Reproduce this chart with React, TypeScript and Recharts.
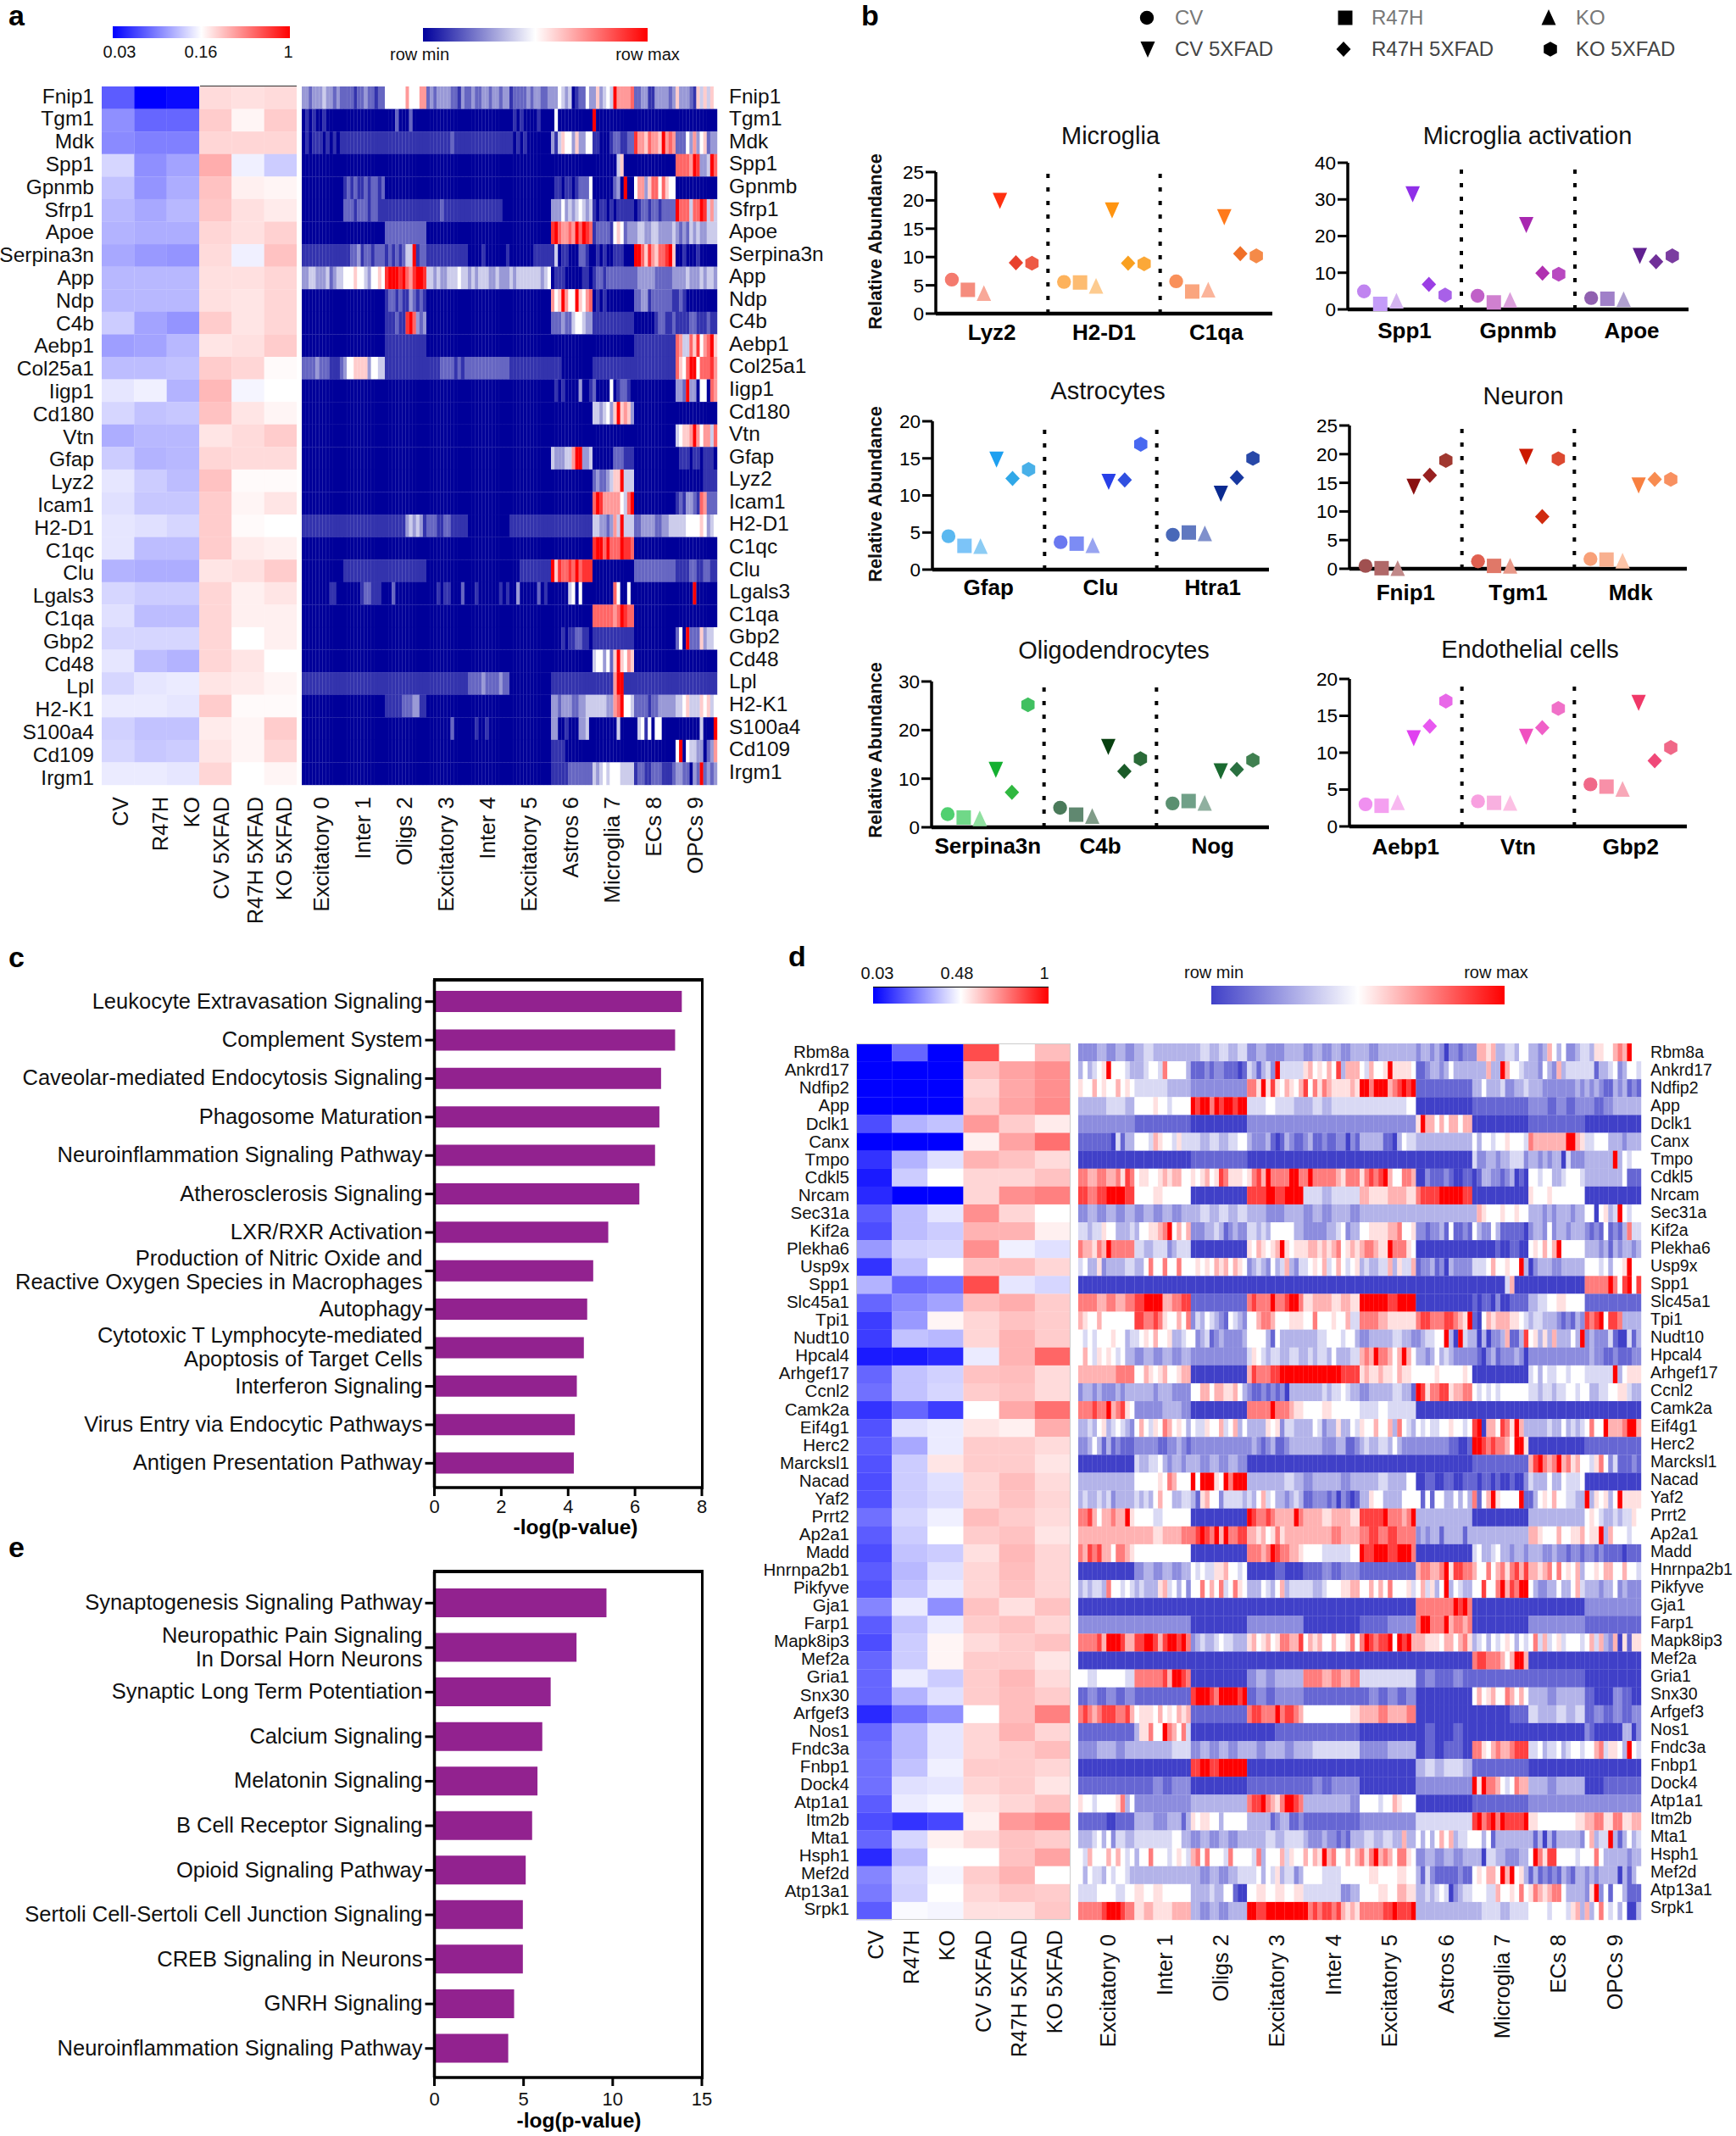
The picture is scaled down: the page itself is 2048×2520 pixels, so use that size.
import React from "react";
import { ScatterChart, Scatter, XAxis, YAxis, BarChart, Bar, ReferenceLine } from "recharts";

const FONT = "'Liberation Sans', Arial, sans-serif";

/* ---------- panel a ---------- */
const aGenes = ["Fnip1","Tgm1","Mdk","Spp1","Gpnmb","Sfrp1","Apoe","Serpina3n","App","Ndp","C4b","Aebp1","Col25a1","Iigp1","Cd180","Vtn","Gfap","Lyz2","Icam1","H2-D1","C1qc","Clu","Lgals3","C1qa","Gbp2","Cd48","Lpl","H2-K1","S100a4","Cd109","Irgm1"];
const groupLabels = ["CV","R47H","KO","CV 5XFAD","R47H 5XFAD","KO 5XFAD"];
const clusterLabels = ["Excitatory 0","Inter 1","Oligs 2","Excitatory 3","Inter 4","Excitatory 5","Astros 6","Microglia 7","ECs 8","OPCs 9"];
const aGroupValues = [
[18,0,2,57,56,57],[28,20,20,60,52,60],[27,25,25,58,58,58],[42,28,32,66,47,40],[38,29,34,62,53,52],[36,33,36,61,56,54],[35,34,34,58,56,59],[33,30,29,57,47,62],[36,36,36,56,56,58],[36,36,36,56,55,58],[40,32,29,60,55,58],[31,32,36,55,56,60],[37,37,38,60,58,51],[45,47,35,64,48,50],[42,38,39,62,55,52],[34,36,36,55,57,60],[40,35,36,58,57,57],[45,40,37,62,51,51],[44,39,39,60,52,55],[45,44,42,60,51,50],[45,37,37,60,54,53],[35,34,34,55,56,60],[42,40,40,58,53,55],[44,37,37,58,53,53],[42,42,42,58,50,53],[45,37,35,58,55,50],[42,45,46,55,54,52],[46,46,45,60,51,51],[41,38,38,54,52,60],[42,39,40,55,52,58],[46,46,45,58,50,52]];
const aClusterRows = [
"332333433232 222122322122 555555755577 232333322132 232233233233 122223233223 335434012253 363454a77778 223311333323 633321646465",
"010100100000 0 000200020000 0 0 010100001000 050000000000 a00000000000 0 0",
"010111010101 1 1 111111121111 1 101010000000 314655363355 110001221122 97768776a787 222537356233",
"0 0 0 0 0 0 0 000000046000 0 88887a9334a8",
"0 121211212212 0 0 0 0 011011012225 000000230a00 577368858655 0",
"0 222122212211 1 111121111111 111111111100 0 333534345434 101101011111 012212212222 a888488a9474",
"0 0 2 0 0 0 9a87787a8a98 122221565233 344334433334 323243433444",
"1 112231221222 12121244a122 1 000010000001 000000011111 140110002210 010100111000 aa86976889a6 001000100000",
"334433342344 555655435565 9aaa9a879aa9 443433444544 343444334333 434444444345 011100000110 122122222222 233333222223 333433343443",
"0 0 122121132121 0 0 0 756a755a6578 010100000000 223312222221 121000000000",
"0 0 1112119a8323 0 0 0 222322455433 1 000000122112 111122111211",
"0 0 1 0 0 0 0 0 1 8744869578a6",
"222232221112 355666635544 1 111122221212 2 1 111000000000 1 1 8658aa588897",
"0 0 0 0 0 0 010100003001 200005012210 0 332a33055087",
"0 0 0 0 0 0 0 4434536a6763 0 0",
"0 0 0 0 0 0 0 0 0 45667a757748",
"0 0 0 0 0 0 4333447aa334 000000222111 0 011101101110",
"0 0 0 0 0 0 0 23223466a444 0 000000001111",
"0 0 0 0 0 0 0 8a977777548a 0 121332187222",
"1 1 111111343431 222112211111 0 1 1 44332374a444 223333223344 444555565345",
"0 0 0 0 0 0 0 9aa8a888a998 0 0",
"0 1 1 0 0 000111111111 a698898a8999 0 2 111122112211",
"000000001100 000001221110 002000000000 000101100020 001000000101 003000002010 000004505000 000000850050 0 00000a000000",
"0 0 0 0 0 0 0 88888878a988 0 0",
"0 0 0 0 0 0 000101122110 1 0 250a22263445",
"0 0 0 0 0 0 0 4553526a6576 0 0",
"1 1 1 1 222232222322 0 1 1111117aa111 1 1",
"0 0 111112223311 0 0 0 332333223344 44443378a554 222212233333 445644465645",
"0 0 0 000000020000 001001000000 0 330010003340 000000040000 045150550000 00000004000a",
"0 0 0 0 0 0 111100000000 0 0 5a0544330237",
"0 0 0 0 0 0 111112222222 434545554444 122112221112 3322032a2323"];

/* ---------- panel d ---------- */
const dGenes = ["Rbm8a","Ankrd17","Ndfip2","App","Dclk1","Canx","Tmpo","Cdkl5","Nrcam","Sec31a","Kif2a","Plekha6","Usp9x","Spp1","Slc45a1","Tpi1","Nudt10","Hpcal4","Arhgef17","Ccnl2","Camk2a","Eif4g1","Herc2","Marcksl1","Nacad","Yaf2","Prrt2","Ap2a1","Madd","Hnrnpa2b1","Pikfyve","Gja1","Farp1","Mapk8ip3","Mef2a","Gria1","Snx30","Arfgef3","Nos1","Fndc3a","Fnbp1","Dock4","Atp1a1","Itm2b","Mta1","Hsph1","Mef2d","Atp13a1","Srpk1"];
const dClusterLabels = clusterLabels;
const dGroupValues = [
[0,20,0,85,50,63],[0,0,0,62,68,72],[0,0,0,58,67,72],[0,0,0,60,68,73],[15,35,38,70,60,54],[0,0,0,53,68,78],[10,35,44,65,62,57],[5,40,50,58,58,62],[8,0,0,58,72,75],[18,37,45,72,58,50],[15,37,40,65,65,53],[30,41,42,72,47,44],[10,37,50,62,63,58],[35,20,22,85,45,42],[20,27,32,63,66,60],[12,30,52,58,62,60],[12,38,36,58,65,60],[5,5,8,46,65,80],[20,38,41,62,63,57],[22,38,42,60,62,57],[10,20,12,50,67,78],[16,44,46,55,53,66],[18,33,46,60,60,57],[16,40,55,60,60,55],[15,40,44,58,63,57],[16,40,43,58,62,58],[22,42,47,63,60,57],[18,40,50,60,62,55],[15,38,40,56,64,58],[18,36,44,58,63,58],[16,38,46,58,62,58],[26,46,28,62,56,62],[18,38,46,60,62,58],[15,40,52,57,60,62],[20,40,52,60,60,55],[20,46,40,60,64,57],[20,35,44,60,63,60],[8,22,28,50,63,75],[20,36,45,58,65,58],[22,36,45,58,60,63],[22,38,47,60,60,58],[22,44,45,58,60,55],[18,46,48,55,58,62],[15,10,14,53,70,74],[20,42,53,57,62,60],[8,36,50,50,62,68],[26,42,48,60,65,50],[24,41,50,58,61,60],[18,49,48,56,56,61]];
const dClusterRows = [
"223232 343333 343434 232233 232323 323333 233232022122 277673344355 332375352234 436655787a55",
"353456a55543 334554855553 111212211101 431342a44444 675657593777 547556a66665 112332353333 333733a75543 332532734444 441334523554",
"655756557565 444444433333 2 886a69657657 958687666676 aa8aaa789a9a 1 335333422334 333222222232 323211323121",
"333443 555565545555 a9aa8a9aa9aa 445443 343444 444445 0 1 221212 212333",
"2 1 0 2 2 2 6a7757577577 0 1 0",
"111111104133 555476554644 443344334455 322231013211 231121122021 333331103544 3 535545565554 87777777aa76 445553332333",
"0 0 1 0 0 0 0 422332334442 332323304222 333333a35455",
"887788778698 566556767755 656756986665 6897a8888aa8 8a8888876888 68989a755887 002111210011 013322123010 554553345554 333333335111",
"989aa9 556555 0 99a9aa 443444 766776 89999aaaaa99 0 655565555555 0",
"232323 232323 343434 332233 232332 3 3 376555655655 333232333233 5505634a5455",
"443446553334 3556678a5757 222334312322 443435555533 222223345233 556666778556 221223151121 532253111110 233252332333 212151213844",
"877687a88888 443344423444 0 6576567a6566 677676785676 788766a88865 0 000001001100 565757a55555 333231323323",
"453362333344 335855855855 565657675765 234325347324 456574575456 343344736447 122312032222 4445755655a3 023332233333 555453556a55",
"0 0 0 0 0 0 0 000000047000 0 88888a859a59",
"887878 99aaaa778899 1 89888a889aa8 677676 aaa9aa 0 101102001111 345655 1",
"765575555555 998898655758 243543215432 557887555666 558555655744 888877666666 89988899876a 105767776654 344333212132 989a59983333",
"545455565534 456575563345 523412322223 555531533333 333445554553 223333344332 234455a30a43 303022371139 56363733353a 232224100413",
"575465654533 232323 2 465434433443 343443533344 787a88757a75 332353432222 210231222320 2 232211211122",
"777788 557656755677 0 7988899aaaaa aaaaaaaa9999 676676657665 555565555565 0 453544554555 444444a35666",
"233232223233 333323332222 557757766753 211212120333 333343445433 223333344331 a96889967788 545454555555 443443445545 533445566433",
"888988a78965 222332 0 88888a888766 556555 445444 0 0 0 0",
"334356345432 575465875653 544655745735 333365624433 335423363354 655755738543 545445565545 9a0775986a73 333343353434 5855a7778aa7",
"223531312111 222221122321 2 232123112333 333322233112 343344353222 222222211001 aa9898875aa6 0 1",
"0 433445323323 323232 0 0 0 0 1 79a878a78675 546852411121",
"3 555556587555 a5aaa65a8aaa 333343 233323 334335 010101 101101001002 433353354445 0",
"343343423333 434357553344 316755244443 435745332343 112221202101 336553333555 515155335353 8157a65555a1 135657554433 a365635a6666",
"8897577877a6 554555 0 a988987777a8 776776 99999a88878a 3 0 3 565433434465",
"777777 776778 89a98a7a8899 776756867777 777877 898988 232331333313 3 776555755667 566a37555455",
"879897758876 5 0 88878a988776 554445 a99aaa99aaa8 0 453345332332 333223221221 221211110111",
"0 232323 545446675545 000100 112122 1 788778a69988 755857868979 776785856573 556577557554",
"343443855454 343336745352 558575845865 333543573444 443345556677 557575855564 574635a35433 559558a798aa 532233533574 333233523222",
"0 0 0 0 0 0 88888888a9a8 0 0 2",
"2 2 0 2 0 111222 8aa888a78878 0 2 1",
"888897aaa977 99aa979aa9a8 234334544333 675675688779 576755755685 8a9899a5a9a7 776665775786 345354565354 584745645554 574732706166",
"0 0 0 0 0 0 0 899888757aa7 0 0",
"545554 88888897aa98 0 232333 887878 4 121121 1 1 0",
"121212 1 9aaa98aaaa9a 121222 1 121212 0 575675587575 332333 100210",
"898789998897 566657565767 1 899888a89987 555556 778778 0 000011 433434 121212",
"1 366855a87584 0 000111 1 0 010010 0 0 210000003302",
"223323 333344 232323 323323 344444 222333 010110 886578778999 445344534554 557846653a54",
"0 0 9a9aaa 0 0 0 343443 1 0 0",
"1 112122 0 1 121222 0 2 a6a887545877 332333 001111",
"655455556835 2 3 899a8768aa98 333332 555545576555 0 1 2 2",
"111111001111 333322233313 656655355555 333331233112 1 2 4 9a89a8a9999a 655556 786867",
"333453524433 444453 232323 334344 322232212133 344334433733 535357573445 553513333333 313031333332 57344a313534",
"547555757545 355855545654 785855548555 548355574655 7576a7855757 868a78758865 232323 330443322233 5a8699555545 558533333233",
"535443545543 3 323234 445354634423 554455 565565 314211111211 565775a7a563 131212132133 232333303135",
"445545 656555 333343355100 565656 444423 556576 334345402344 555447556585 687678853333 26a251553111",
"888889aaa988 676677 323233 a9aaaa a89899897676 8888899a999a 3 344344 555545554673 735854535003"];

/* ---------- panel b ---------- */
const genotypeMarkers = [0, 1, 2, 3, 4, 5]; // circle, square, up, down, diamond, hexagon
const microgliaValues = [[6.0,4.2,3.5,20,9.0,8.9],[5.6,5.5,4.8,18.3,8.9,8.8],[5.7,3.9,4.1,17.1,10.6,10.2]];
const microgliaColors = [["#F47A6E","#F58D7E","#F8A898","#FF3010","#E8402C","#EE5A45"],["#FDB25C","#FDBC72","#FDCB90","#FF9410","#F9A020","#FBA838"],["#F9905A","#FAA57E","#FBB49A","#FF7A1C","#F07028","#F58A48"]];
const activationValues = [[4.9,1.5,2.2,31.5,6.8,3.9],[3.7,1.9,2.4,23.1,9.9,9.6],[3.1,2.9,2.6,14.7,13,14.6]];
const activationColors = [["#C084F0","#C49CF8","#D4B4F0","#8F2FE8","#9B3FE4","#A860E8"],["#C060C8","#D080D0","#DCA0DC","#A828B0","#B030B0","#B848C0"],["#9060B0","#A080C8","#B0A0D0","#602090","#703098","#7A3CA0"]];
const astrocyteValues = [[4.5,3.2,3.1,14.9,12.3,13.5],[3.7,3.5,3.2,11.9,12.1,16.9],[4.7,5,4.8,10.3,12.4,15]];
const astrocyteColors = [["#5AB8F0","#7CC4F8","#8CCCF4","#1EA0F0","#30A8E8","#48B0E8"],["#6A78F0","#7C8CF4","#98A4F0","#2840E8","#3050E0","#4868F0"],["#4868B8","#6078C0","#8090CC","#0A2A90","#1838A0","#2848A8"]];
const neuronValues = [[0.5,0.1,0,14.4,16.3,18.9],[1.3,0.5,0.4,19.6,9.1,19.2],[1.7,1.6,1.3,14.6,15.6,15.6]];
const neuronColors = [["#A05050","#B06868","#C08888","#8A1010","#982020","#A03830"],["#E06050","#E07868","#E89888","#CC1800","#D02C10","#DC4830"],["#F8A078","#F8B090","#FCC4A8","#F88040","#F88C50","#F89060"]];
const oligoValues = [[2.7,2,1.7,11.9,7.2,25.2],[4,2.6,2.2,16.6,11.5,14.1],[4.9,5.4,4.9,11.6,11.9,13.8]];
const oligoColors = [["#50D070","#70D888","#90E0A0","#14B030","#30B840","#40C060"],["#4A7A5A","#608870","#809C88","#084010","#1A5A28","#2A6A38"],["#5A9070","#70A088","#90B0A0","#1A6A30","#2A7040","#408050"]];
const endoValues = [[3,2.8,3.2,12,13.6,17],[3.4,3.2,3.1,12.2,13.4,16],[5.7,5.4,5,16.8,8.9,10.7]];
const endoColors = [["#F090F0","#F4A0F0","#F8B8F0","#E040F0","#E858F0","#E868E8"],["#F8A0E0","#F8B0E0","#FCC0E4","#F050C0","#F060C8","#F070C8"],["#F06888","#F890A8","#F8A8B8","#F03868","#F04878","#F06888"]];

/* ---------- panels c, e ---------- */
const cLabels = ["Leukocyte Extravasation Signaling","Complement System","Caveolar-mediated Endocytosis Signaling","Phagosome Maturation","Neuroinflammation Signaling Pathway","Atherosclerosis Signaling","LXR/RXR Activation","Production of Nitric Oxide and\nReactive Oxygen Species in Macrophages","Autophagy","Cytotoxic T Lymphocyte-mediated\nApoptosis of Target Cells","Interferon Signaling","Virus Entry via Endocytic Pathways","Antigen Presentation Pathway"];
const cValues = [7.4,7.2,6.78,6.73,6.6,6.13,5.2,4.75,4.57,4.47,4.26,4.2,4.17];
const eLabels = ["Synaptogenesis Signaling Pathway","Neuropathic Pain Signaling\nIn Dorsal Horn Neurons","Synaptic Long Term Potentiation","Calcium Signaling","Melatonin Signaling","B Cell Receptor Signaling","Opioid Signaling Pathway","Sertoli Cell-Sertoli Cell Junction Signaling","CREB Signaling in Neurons","GNRH Signaling","Neuroinflammation Signaling Pathway"];
const eValues = [9.65,7.97,6.52,6.05,5.78,5.48,5.12,4.96,4.96,4.47,4.14];

/* ---------- helpers ---------- */
const mix = (a: number[], b: number[], t: number) =>
  `rgb(${a.map((c, i) => Math.round(c + (b[i] - c) * t)).join(",")})`;
const diverging = (low: number[], gamma = 1) => (t: number) =>
  t < 0.5 ? mix(low, [255, 255, 255], t * 2) : mix([255, 255, 255], [255, 0, 0], Math.pow((t - 0.5) * 2, gamma));
const groupColor = diverging([0, 0, 255]);
const aClusterColor = diverging([0, 0, 153]);
const dClusterColor = diverging([64, 64, 200], 1.3);

const decodeClusterRow = (row: string) => {
  const toks = row.split(" ");
  const out: number[] = [];
  for (let c = 0; c < 10; c++) {
    const tok = toks[c] ?? "0";
    for (let i = 0; i < 12; i++) out.push(parseInt(tok[Math.floor((i * tok.length) / 12)], 16) / 10);
  }
  return out;
};

const T = ({ x, y, size, children, anchor = "middle", weight = 400, color = "#111", rot = 0 }: any) => (
  <div
    style={{
      position: "absolute", left: x, top: y, fontSize: size, fontWeight: weight, color, lineHeight: 1,
      whiteSpace: "nowrap", fontFamily: FONT,
      transform: `translate(${anchor === "middle" ? "-50%" : anchor === "end" ? "-100%" : "0"},-50%) rotate(${rot}deg)`,
    }}
  >
    {children}
  </div>
);

const Heatmap = ({ left, top, labelW, plotW, plotH, rows, xLabels, xTicks, xShift, nCols, matrix, color, side, fontSize, xGap, xFont, tickGap, chartW, labelFirst, labelLast }: any) => {
  const nRows = rows.length;
  const topPad = 20;
  const data: any[] = [];
  matrix.forEach((r: number[], i: number) =>
    r.forEach((v, j) => data.push({ x: j + 0.5, y: i + 0.5, v }))
  );
  const w = plotW / nCols;
  const h = plotH / nRows;
  const pitch = (labelLast - labelFirst) / (nRows - 1);
  const rowTicks = rows.map((_: string, i: number) => (labelFirst + i * pitch) / h);
  const Cell = ({ cx, cy, payload }: any) => (
    <rect x={cx - w / 2} y={cy - h / 2} width={w + 0.2} height={h + 0.2} fill={color(payload.v)} />
  );
  const XTick = ({ x, y, payload }: any) => {
    const idx = xTicks.indexOf(payload.value);
    return (
      <text
        transform={`translate(${x + xShift[idx]},${y + xGap}) rotate(-90)`}
        textAnchor="end" dominantBaseline="central" fontSize={xFont} fontFamily={FONT} fill="#111"
      >
        {xLabels[idx]}
      </text>
    );
  };
  return (
    <div style={{ position: "absolute", left, top: top - topPad }}>
      <ScatterChart
        width={chartW} height={plotH + 220 + topPad}
        margin={{ top: topPad, bottom: 0, left: 0, right: 0 }}
      >
        <XAxis type="number" dataKey="x" domain={[0, nCols]} ticks={xTicks} interval={0} height={220}
          axisLine={false} tickLine={false} tickSize={0} tickMargin={0} tick={XTick} />
        <YAxis type="number" dataKey="y" domain={[0, nRows]} reversed ticks={rowTicks} interval={0}
          width={labelW} orientation={side} axisLine={false} tickLine={false} tickSize={0} tickMargin={tickGap}
          tick={{ fontSize, fontFamily: FONT, fill: "#111" }}
          tickFormatter={(v: number) => rows[Math.round((v * h - labelFirst) / pitch)]} />
        <Scatter data={data} shape={Cell} isAnimationActive={false} />
      </ScatterChart>
    </div>
  );
};

const glyph = (sym: number, cx: number, cy: number, fill: string) => {
  const pts = (p: number[][]) => p.map(([a, b]) => `${cx + a},${cy + b}`).join(" ");
  switch (sym) {
    case 0: return <circle cx={cx} cy={cy} r={8.2} fill={fill} />;
    case 1: return <rect x={cx - 8.5} y={cy - 8.5} width={17} height={17} fill={fill} />;
    case 2: return <polygon points={pts([[0, -10], [8.5, 8.5], [-8.5, 8.5]])} fill={fill} />;
    case 3: return <polygon points={pts([[-8.5, -9], [8.5, -9], [0, 10]])} fill={fill} />;
    case 4: return <polygon points={pts([[0, -9], [8.5, 0], [0, 9], [-8.5, 0]])} fill={fill} />;
    default: return <polygon points={pts([[0, -8.8], [7.8, -4.4], [7.8, 4.4], [0, 8.8], [-7.8, 4.4], [-7.8, -4.4]])} fill={fill} />;
  }
};
const Marker = ({ cx, cy, payload }: any) => glyph(payload.sym, cx, cy, payload.fill);

const Strip = ({ x0, x1, yTop, y0, yMax, ticks, genes, values, colors, labelGap }: any) => {
  const leftPad = 60;
  const topPad = 20;
  const data: any[] = [];
  values.forEach((g: number[], gi: number) =>
    g.forEach((v, i) => data.push({ x: gi * 7 + i + 1, y: v, sym: genotypeMarkers[i], fill: colors[gi][i] }))
  );
  const centers = [3.5, 10.5, 17.5];
  return (
    <div style={{ position: "absolute", left: x0 - leftPad, top: yTop - topPad }}>
      <ScatterChart width={leftPad + (x1 - x0) + 10} height={y0 - yTop + topPad + 50}
        margin={{ top: topPad, right: 10, left: 0, bottom: 0 }}>
        <ReferenceLine x={7} stroke="#000" strokeWidth={4} strokeDasharray="5 11" />
        <ReferenceLine x={14} stroke="#000" strokeWidth={4} strokeDasharray="5 11" />
        <XAxis type="number" dataKey="x" domain={[0, 21]} ticks={centers} interval={0} height={50}
          axisLine={{ stroke: "#000", strokeWidth: 4.5 }} tickLine={false} tickSize={0} tickMargin={labelGap}
          tick={{ fontSize: 26, fontWeight: 700, fontFamily: FONT, fill: "#000" }}
          tickFormatter={(v: number) => genes[centers.indexOf(v)]} />
        <YAxis type="number" dataKey="y" domain={[0, yMax]} ticks={ticks} interval={0} width={leftPad}
          axisLine={{ stroke: "#000", strokeWidth: 3.5 }} tickLine={{ stroke: "#000", strokeWidth: 3 }}
          tickSize={12} tickMargin={2}
          tick={{ fontSize: 22.5, fontFamily: FONT, fill: "#000" }} />
        <Scatter data={data} shape={Marker} isAnimationActive={false} />
      </ScatterChart>
    </div>
  );
};

const PathwayBars = ({ top, plotH, labels, values, max, ticks, barSize, padTop, padBottom, tickGap }: any) => {
  const data = labels.map((name: string, i: number) => ({ name, value: values[i] }));
  const Tick = ({ x, y, payload }: any) => {
    const lines = String(payload.value).split("\n");
    return (
      <text x={x} y={y} textAnchor="end" fontSize={25.5} fontFamily={FONT} fill="#111">
        {lines.map((l, i) => (
          <tspan key={i} x={x} dy={i === 0 ? (lines.length === 1 ? 8 : -6) : 28}>{l}</tspan>
        ))}
      </text>
    );
  };
  return (
    <div style={{ position: "absolute", left: 0, top: top - 5 }}>
      <BarChart width={845} height={plotH + 5 + 44} layout="vertical" data={data}
        margin={{ top: 5, right: 17, left: 0, bottom: 0 }}>
        <XAxis type="number" domain={[0, max]} ticks={ticks} interval={0} height={44}
          axisLine={{ stroke: "#000", strokeWidth: 3.5 }} tickLine={{ stroke: "#000", strokeWidth: 3 }}
          tickSize={10} tickMargin={tickGap} tick={{ fontSize: 22, fontFamily: FONT, fill: "#111" }} />
        <YAxis type="category" dataKey="name" width={512.5} interval={0} padding={{ top: padTop, bottom: padBottom }}
          axisLine={{ stroke: "#000", strokeWidth: 3.5 }} tickLine={{ stroke: "#000", strokeWidth: 3 }}
          tickSize={11} tickMargin={3} tick={Tick} />
        <Bar dataKey="value" fill="#92228F" barSize={barSize} isAnimationActive={false} />
      </BarChart>
    </div>
  );
};

const legendItems = [
  { sym: 0, label: "CV", sx: 1353, tx: 1386, y: 21, c: "#777" },
  { sym: 1, label: "R47H", sx: 1587, tx: 1618, y: 21, c: "#777" },
  { sym: 2, label: "KO", sx: 1827, tx: 1859, y: 21, c: "#777" },
  { sym: 3, label: "CV 5XFAD", sx: 1354, tx: 1386, y: 58, c: "#444" },
  { sym: 4, label: "R47H 5XFAD", sx: 1585, tx: 1618, y: 58, c: "#444" },
  { sym: 5, label: "KO 5XFAD", sx: 1829, tx: 1859, y: 58, c: "#444" },
];

const aLeftTicks = [0.5, 1.5, 2.5, 3.5, 4.5, 5.5];
const clusterTicks = [6, 18, 30, 42, 54, 66, 78, 90, 102, 114];
const aRightMatrix = aClusterRows.map(decodeClusterRow);
const dRightMatrix = dClusterRows.map(decodeClusterRow);
const aLeftMatrix = aGroupValues.map((r) => r.map((v) => v / 100));
const dLeftMatrix = dGroupValues.map((r) => r.map((v) => v / 100));
const shift = (n: number, v: number) => Array.from({ length: n }, () => v);

const bar = (x: number, y: number, w: number, h: number, bg: string, extra: any = {}) => (
  <div style={{ position: "absolute", left: x, top: y, width: w, height: h, background: bg, ...extra }} />
);

export default function App() {
  return (
    <div style={{ position: "absolute", left: 0, top: 0, width: 2048, height: 2520, background: "#fff", overflow: "hidden", fontFamily: FONT }}>
      {/* panel letters */}
      <T x={10} y={18} size={34} weight={700} anchor="start" color="#000">a</T>
      <T x={1016} y={18} size={34} weight={700} anchor="start" color="#000">b</T>
      <T x={10} y={1129} size={34} weight={700} anchor="start" color="#000">c</T>
      <T x={930} y={1128} size={34} weight={700} anchor="start" color="#000">d</T>
      <T x={10} y={1825} size={34} weight={700} anchor="start" color="#000">e</T>

      {/* panel a */}
      {bar(133, 31, 209, 14, "linear-gradient(90deg,#0000ff,#ffffff 50%,#ff0000)")}
      <T x={141} y={61} size={20}>0.03</T>
      <T x={237} y={61} size={20}>0.16</T>
      <T x={340} y={61} size={20}>1</T>
      {bar(499, 33, 265, 16, "linear-gradient(90deg,#00009c,#ffffff 50%,#ff0000)")}
      <T x={495} y={64} size={20}>row min</T>
      <T x={764} y={64} size={20}>row max</T>
      <Heatmap left={0} top={102} labelW={120} plotW={230} plotH={824} rows={aGenes} chartW={350}
        xLabels={groupLabels} xTicks={aLeftTicks} xShift={[3, 11, 10, 7, 8, 4]} nCols={6} matrix={aLeftMatrix} color={groupColor}
        side="left" fontSize={24.5} xGap={14} xFont={25} tickGap={9} labelFirst={11} labelLast={815} />
      <Heatmap left={356} top={102} labelW={160} plotW={490} plotH={824} rows={aGenes} chartW={650}
        xLabels={clusterLabels} xTicks={clusterTicks} xShift={shift(10, -2)} nCols={120} matrix={aRightMatrix} color={aClusterColor}
        side="right" fontSize={24.5} xGap={14} xFont={26} tickGap={14} labelFirst={11} labelLast={808} />
      {bar(236, 101, 114, 1, "#333")}

      {/* panel b */}
      <svg style={{ position: "absolute", left: 1340, top: 0 }} width={520} height={80}>
        {legendItems.map((it) => (
          <g key={it.label}>{glyph(it.sym, it.sx - 1340, it.y, "#000")}</g>
        ))}
      </svg>
      {legendItems.map((it) => (
        <T key={it.label} x={it.tx} y={it.y} size={24} anchor="start" color={it.c}>{it.label}</T>
      ))}
      <T x={1310} y={160} size={29}>Microglia</T>
      <T x={1802} y={160} size={29}>Microglia activation</T>
      <T x={1307} y={461} size={29}>Astrocytes</T>
      <T x={1797} y={467} size={29}>Neuron</T>
      <T x={1314} y={767} size={29}>Oligodendrocytes</T>
      <T x={1805} y={766} size={29}>Endothelial cells</T>
      <T x={1033} y={285} size={21.8} weight={700} rot={-90}>Relative Abundance</T>
      <T x={1033} y={583} size={21.8} weight={700} rot={-90}>Relative Abundance</T>
      <T x={1033} y={885} size={21.8} weight={700} rot={-90}>Relative Abundance</T>

      <Strip x0={1104} x1={1501} yTop={203} y0={370} yMax={25} ticks={[0,5,10,15,20,25]} genes={["Lyz2","H2-D1","C1qa"]} values={microgliaValues} colors={microgliaColors} labelGap={13} />
      <Strip x0={1590} x1={1992} yTop={192} y0={365} yMax={40} ticks={[0,10,20,30,40]} genes={["Spp1","Gpnmb","Apoe"]} values={activationValues} colors={activationColors} labelGap={16} />
      <Strip x0={1100} x1={1497} yTop={497} y0={672} yMax={20} ticks={[0,5,10,15,20]} genes={["Gfap","Clu","Htra1"]} values={astrocyteValues} colors={astrocyteColors} labelGap={12} />
      <Strip x0={1592} x1={1990} yTop={502} y0={671} yMax={25} ticks={[0,5,10,15,20,25]} genes={["Fnip1","Tgm1","Mdk"]} values={neuronValues} colors={neuronColors} labelGap={19} />
      <Strip x0={1099} x1={1497} yTop={804} y0={976} yMax={30} ticks={[0,10,20,30]} genes={["Serpina3n","C4b","Nog"]} values={oligoValues} colors={oligoColors} labelGap={13} />
      <Strip x0={1592} x1={1990} yTop={801} y0={975} yMax={20} ticks={[0,5,10,15,20]} genes={["Aebp1","Vtn","Gbp2"]} values={endoValues} colors={endoColors} labelGap={15} />

      {/* panel c */}
      <PathwayBars top={1156} plotH={599} labels={cLabels} values={cValues} max={8} ticks={[0,2,4,6,8]} barSize={25} padTop={3} padBottom={6} tickGap={4} />
      {bar(511, 1154, 319, 3.5, "#000")}
      {bar(826.5, 1154, 3.5, 603, "#000")}
      <T x={679} y={1802} size={24.5} weight={700} color="#000">-log(p-value)</T>

      {/* panel e */}
      <PathwayBars top={1854} plotH={597} labels={eLabels} values={eValues} max={15} ticks={[0,5,10,15]} barSize={34} padTop={11} padBottom={8} tickGap={7} />
      {bar(511, 1852, 319, 3.5, "#000")}
      {bar(826.5, 1852, 3.5, 601, "#000")}
      <T x={683} y={2502} size={24.5} weight={700} color="#000">-log(p-value)</T>

      {/* panel d */}
      {bar(1030, 1164, 207, 20, "linear-gradient(90deg,#0000ff,#ffffff 50%,#ff0000)", { borderTop: "1px solid #000", boxSizing: "border-box" })}
      <T x={1035} y={1148} size={20}>0.03</T>
      <T x={1129} y={1148} size={20}>0.48</T>
      <T x={1232} y={1148} size={20}>1</T>
      {bar(1429, 1163, 346, 22, "linear-gradient(90deg,#4040c8,#ffffff 50%,#ff0000)")}
      <T x={1432} y={1147} size={20}>row min</T>
      <T x={1765} y={1147} size={20}>row max</T>
      <Heatmap left={880} top={1231} labelW={130} plotW={253} plotH={1034} rows={dGenes} chartW={383}
        xLabels={groupLabels} xTicks={aLeftTicks} xShift={shift(6, 2)} nCols={6} matrix={dLeftMatrix} color={groupColor}
        side="left" fontSize={20.5} xGap={12} xFont={25} tickGap={8} labelFirst={10} labelLast={1021} />
      <Heatmap left={1272} top={1231} labelW={112} plotW={664} plotH={1034} rows={dGenes} chartW={776}
        xLabels={dClusterLabels} xTicks={clusterTicks} xShift={shift(10, 2)} nCols={120} matrix={dRightMatrix} color={dClusterColor}
        side="right" fontSize={19.6} xGap={17} xFont={25.5} tickGap={11} labelFirst={10} labelLast={1019} />
      {bar(1010, 1231, 253, 1034, "transparent", { border: "1px solid #ccc", boxSizing: "border-box" })}
    </div>
  );
}
